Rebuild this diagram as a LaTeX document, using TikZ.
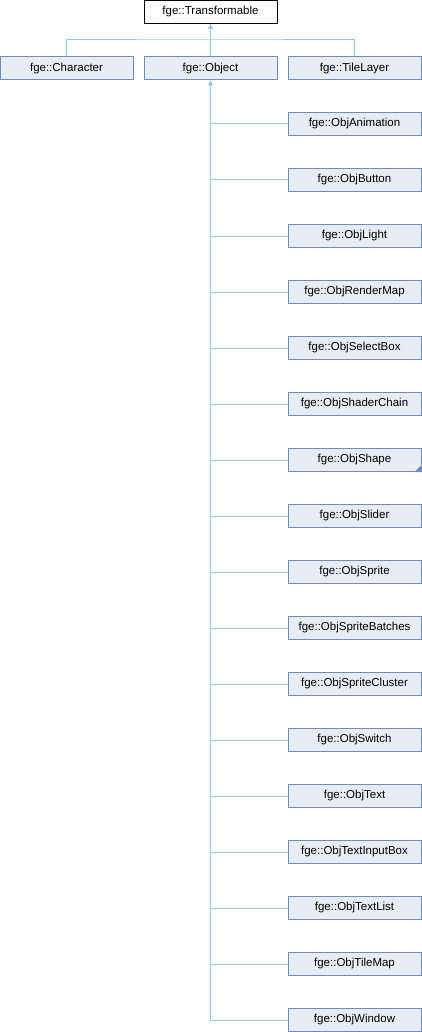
\documentclass[tikz,border=0pt]{standalone}
\usepackage{fontspec}
\setmainfont{Liberation Sans}
\definecolor{boxfill}{HTML}{E8ECF5}
\definecolor{boxline}{HTML}{6B8CC4}
\definecolor{edgecol}{HTML}{8FC8E8}
\tikzset{
  cls/.style={draw=boxline, fill=boxfill, line width=1pt, minimum width=133pt, minimum height=23pt, inner sep=0pt, font=\fontsize{11.5}{13}\selectfont},
  topcls/.style={cls, draw=black, fill=white},
  edge/.style={draw=edgecol, line width=1pt},
  inh/.style={edge, {Triangle[open, length=5pt, width=5pt, fill=edgecol]}-},
}
\usetikzlibrary{arrows.meta}
\begin{document}
\begin{tikzpicture}[x=1pt,y=-1pt]
\useasboundingbox (0,0) rectangle (422,1032);
\node[topcls] (T) at (210.5,12) {fge::Transformable};
\node[cls] (C) at (66.5,68.5) {fge::Character};
\node[cls] (O) at (210.5,68.5) {fge::Object};
\node[cls] (L) at (354.5,68.5) {fge::TileLayer};
\coordinate (J) at (210.5,40);
\draw[inh] (T.south) -- (O.north);
\draw[edge] (C.north) |- (J) -| (L.north);
\foreach \n/\t [count=\i from 0] in {a/ObjAnimation,b/ObjButton,c/ObjLight,d/ObjRenderMap,e/ObjSelectBox,f/ObjShaderChain,g/ObjShape,h/ObjSlider,i/ObjSprite,j/ObjSpriteBatches,k/ObjSpriteCluster,l/ObjSwitch,m/ObjText,n/ObjTextInputBox,o/ObjTextList,p/ObjTileMap,q/ObjWindow}{
  \node[cls] (\n) at (354.5,124+56*\i) {fge::\t};
}
\draw[inh] (O.south) -- (O.south |- q.west) -- (q.west);
\foreach \n in {a,b,c,d,e,f,g,h,i,j,k,l,m,n,o,p}{
  \draw[edge] (O.south |- \n.west) -- (\n.west);
}
\fill[boxline] (g.south east) -- ++(0,-7) -- ++(-7,7) -- cycle;
\end{tikzpicture}
\end{document}
